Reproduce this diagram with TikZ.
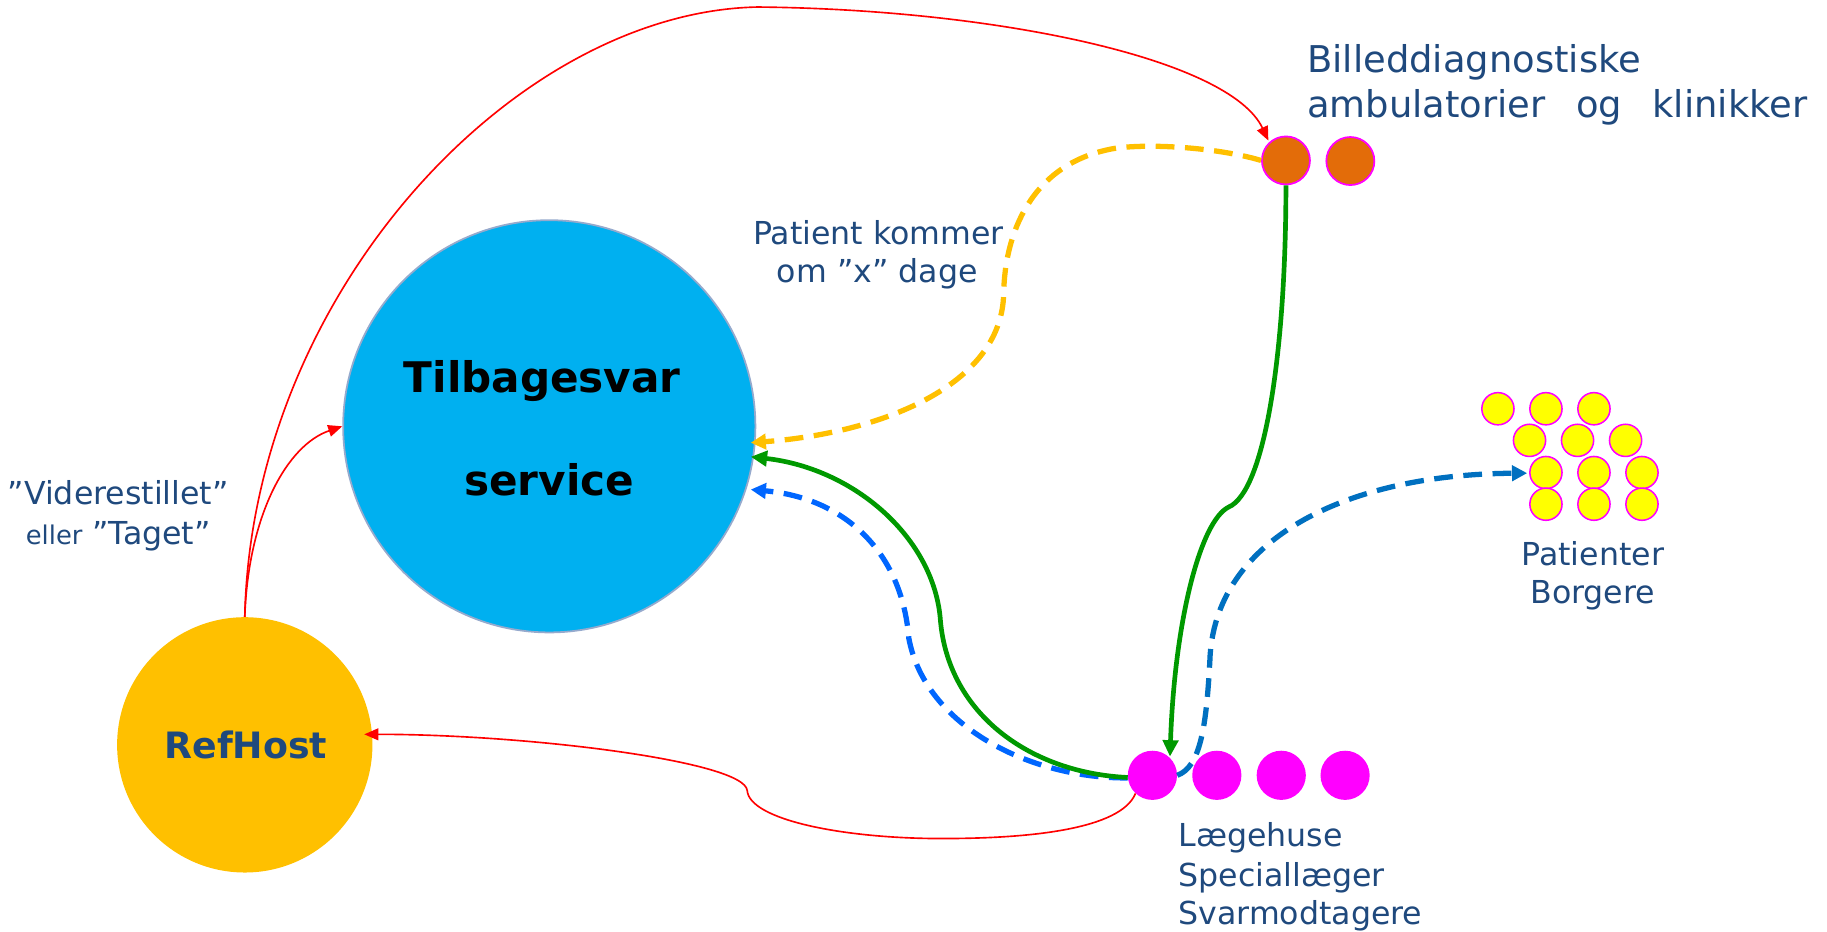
\documentclass[tikz,border=0pt]{standalone}
\usepackage{fontspec}
\setmainfont{DejaVu Sans}
\usetikzlibrary{arrows.meta}
\definecolor{txtblue}{RGB}{31,73,125}
\definecolor{tbfill}{RGB}{0,176,240}
\definecolor{tbborder}{RGB}{150,170,205}
\definecolor{rhfill}{RGB}{255,192,0}
\definecolor{orangec}{RGB}{227,108,9}
\definecolor{magentac}{RGB}{255,0,255}
\definecolor{yellowc}{RGB}{255,255,0}
\definecolor{greenc}{RGB}{0,153,0}
\definecolor{redc}{RGB}{255,0,0}
\definecolor{dashyellow}{RGB}{255,192,0}
\definecolor{blueone}{RGB}{0,102,255}
\definecolor{bluetwo}{RGB}{0,112,192}
\begin{document}
\begin{tikzpicture}[x=1pt,y=-1pt,
  lbl/.style={text=txtblue,font=\fontsize{27}{33}\selectfont,inner sep=0pt},
  biglbl/.style={text=txtblue,font=\fontsize{31.5}{38}\selectfont,inner sep=0pt},
  boldlbl/.style={text=black,font=\fontsize{36}{42}\selectfont\bfseries,inner sep=0pt},
  dot/.style={circle,inner sep=0pt,minimum size=42pt},
  orangedot/.style={dot,minimum size=41pt,fill=orangec,draw=magentac,line width=1.5pt},
  magdot/.style={dot,fill=magentac},
  yeldot/.style={circle,inner sep=0pt,minimum size=27.5pt,fill=yellowc,draw=magentac,line width=1.3pt},
  redarrow/.style={draw=redc,line width=1.4pt,-{Triangle[length=12pt,width=10pt]}},
  greenarrow/.style={draw=greenc,line width=4pt,-{Triangle[length=14pt,width=13pt]}},
  dasharrow/.style={line width=4.5pt,dash pattern=on 16pt off 9pt,-{Triangle[length=13pt,width=13pt]}}]
\useasboundingbox (0,0) rectangle (1560,795);
% main circles
\node[circle,inner sep=0pt,minimum size=352pt,fill=tbfill,draw=tbborder,line width=1.5pt] (tb) at (469,364) {};
\node[boldlbl,anchor=base] (tbt1) at (463,335) {Tilbagesvar};
\node[boldlbl,anchor=base] (tbt2) at (469,423) {service};
\node[circle,inner sep=0pt,minimum size=218pt,fill=rhfill] (rh) at (209,636) {};
\node[text=txtblue,font=\fontsize{31}{36}\selectfont\bfseries,inner sep=0pt,anchor=base] (rht) at (210,648) {RefHost};
% small dots
\node[orangedot] (o1) at (1098,137) {};
\node[orangedot] (o2) at (1153,137.5) {};
\node[magdot] (m1) at (984,662) {};
\node[magdot] (m2) at (1039,662) {};
\node[magdot] (m3) at (1094,662) {};
\node[magdot] (m4) at (1148.5,662) {};
\node[yeldot] (y11) at (1279,349) {};
\node[yeldot] (y12) at (1320,349) {};
\node[yeldot] (y13) at (1361,349) {};
\node[yeldot] (y21) at (1306,376) {};
\node[yeldot] (y22) at (1347,376) {};
\node[yeldot] (y23) at (1388,376) {};
\node[yeldot] (y31) at (1320,403.5) {};
\node[yeldot] (y32) at (1361,403.5) {};
\node[yeldot] (y33) at (1402,403.5) {};
\node[yeldot] (y41) at (1320,430.5) {};
\node[yeldot] (y42) at (1361,430.5) {};
\node[yeldot] (y43) at (1402,430.5) {};
% labels
\node[biglbl,anchor=base west] (bd1) at (1116,62) {Billeddiagnostiske};
\node[biglbl,anchor=base west] (bd2) at (1116,100) {\makebox[427pt][s]{ambulatorier og klinikker}};
\node[lbl,anchor=base] (pk1) at (750,208.6) {Patient kommer};
\node[lbl,anchor=base] (pk2) at (749,241) {om ”x” dage};
\node[lbl,anchor=base] (vt1) at (101,431) {”Viderestillet”};
\node[lbl,anchor=base] (vt2) at (101,464.6) {{\fontsize{22}{26}\selectfont eller} ”Taget”};
\node[lbl,anchor=base] (pb1) at (1360,483) {Patienter};
\node[lbl,anchor=base] (pb2) at (1360,515) {Borgere};
\node[lbl,anchor=base west] (ls1) at (1006,723) {Lægehuse};
\node[lbl,anchor=base west] (ls2) at (1006,756.6) {Speciallæger};
\node[lbl,anchor=base west] (ls3) at (1006,789) {Svarmodtagere};
% end coordinates
\coordinate (rhin) at (311,627);
\coordinate (tbyel) at (641,378);
\coordinate (tbgrn) at (641,390);
\coordinate (tbblu) at (641,418);
\coordinate (yin) at (1304,404);
% red connectors
\draw[redarrow] (rh.north) .. controls (215,250) and (440,10) .. (647,6) .. controls (850,8) and (1050,50) .. (1083,120);
\draw[redarrow] (rh.north) .. controls (212,440) and (245,380) .. (tb.west);
\draw[redarrow] (m1.227) .. controls (957,708) and (880,716) .. (804,716) .. controls (720,716) and (640,700) .. (638,675) .. controls (636,650) and (450,627) .. (rhin);
% green connectors
\draw[greenarrow] (o1.south) .. controls (1098,300) and (1080,420) .. (1049,433) .. controls (1025,445) and (1003,530) .. (999,646);
% dashed blue to tb
\draw[dasharrow,draw=blueone] (m1.186) .. controls (880,665) and (790,620) .. (776,545) .. controls (770,470) and (720,425) .. (tbblu);
\draw[greenarrow] (m1.185) .. controls (880,660) and (810,610) .. (803,530) .. controls (798,460) and (730,400) .. (tbgrn);
% dashed blue to patients
\draw[dasharrow,draw=bluetwo] (m1.east) .. controls (1025,655) and (1030,620) .. (1033,565) .. controls (1036,460) and (1150,405) .. (yin);
% dashed yellow
\draw[dasharrow,draw=dashyellow] (o1.west) .. controls (1040,126) and (980,122) .. (950,127) .. controls (880,140) and (858,200) .. (857,250) .. controls (856,330) and (750,370) .. (tbyel);
\end{tikzpicture}
\end{document}
